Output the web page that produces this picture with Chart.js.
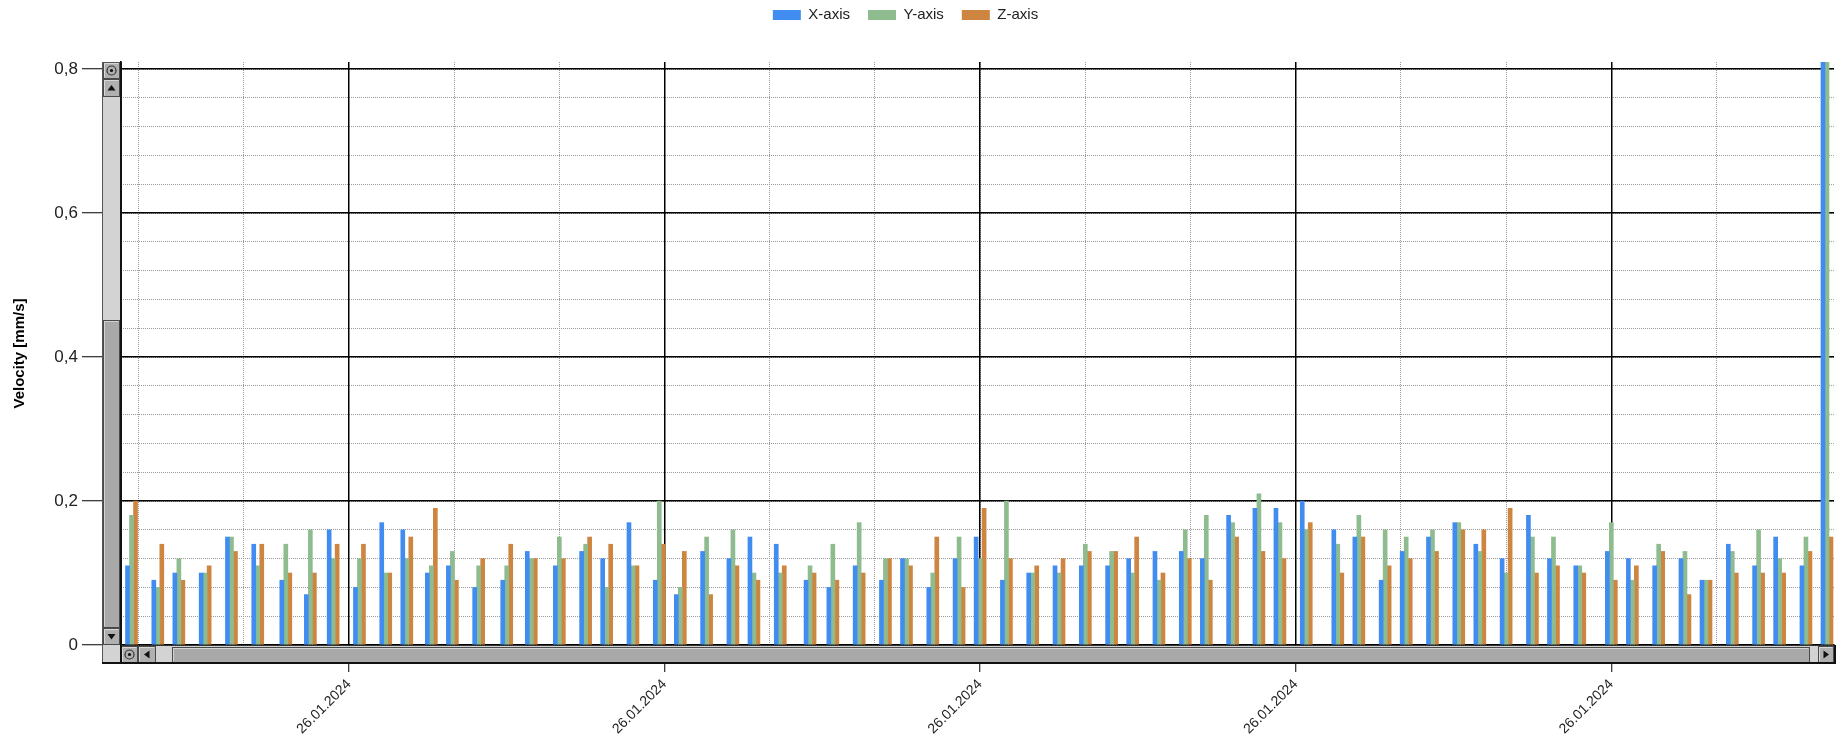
<!DOCTYPE html>
<html>
<head>
<meta charset="utf-8">
<script src="https://cdn.jsdelivr.net/npm/chart.js@4.4.1/dist/chart.umd.min.js"></script>
<style>
  html, body { margin: 0; padding: 0; background: #fff; }
  #wrap { width: 1839px; height: 736px; }
</style>
</head>
<body>
<div id="wrap"><canvas id="chart" width="1839" height="736"></canvas></div>
<script>
// Messzeitpunkte am 26.01.2024 (Uhrzeit)
const times = [
  '00:56', '01:11', '01:23', '01:38', '01:53', '02:08', '02:24', '02:38', '02:51', '03:06',
  '03:21', '03:33', '03:47', '03:59', '04:14', '04:30', '04:44', '05:00', '05:15', '05:27',
  '05:42', '05:57', '06:09', '06:24', '06:39', '06:51', '07:06', '07:23', '07:36', '07:51',
  '08:06', '08:18', '08:33', '08:48', '09:00', '09:15', '09:30', '09:45', '10:00', '10:15',
  '10:27', '10:42', '10:57', '11:09', '11:24', '11:39', '11:51', '12:06', '12:24', '12:36',
  '12:51', '13:03', '13:18', '13:33', '13:45', '14:00', '14:15', '14:27', '14:42', '15:00',
  '15:12', '15:27', '15:42', '15:54', '16:09', '16:24', '16:36', '16:51', '17:03'
];
const xAxisValues = [
  0.11, 0.09, 0.10, 0.10, 0.15, 0.14, 0.09, 0.07, 0.16, 0.08,
  0.17, 0.16, 0.10, 0.11, 0.08, 0.09, 0.13, 0.11, 0.13, 0.12,
  0.17, 0.09, 0.07, 0.13, 0.12, 0.15, 0.14, 0.09, 0.08, 0.11,
  0.09, 0.12, 0.08, 0.12, 0.15, 0.09, 0.10, 0.11, 0.11, 0.11,
  0.12, 0.13, 0.13, 0.12, 0.18, 0.19, 0.19, 0.20, 0.16, 0.15,
  0.09, 0.13, 0.15, 0.17, 0.14, 0.12, 0.18, 0.12, 0.11, 0.13,
  0.12, 0.11, 0.12, 0.09, 0.14, 0.11, 0.15, 0.11, 0.85
];
const yAxisValues = [
  0.18, 0.08, 0.12, 0.10, 0.15, 0.11, 0.14, 0.16, 0.12, 0.12,
  0.10, 0.12, 0.11, 0.13, 0.11, 0.11, 0.12, 0.15, 0.14, 0.08,
  0.11, 0.20, 0.08, 0.15, 0.16, 0.10, 0.10, 0.11, 0.14, 0.17,
  0.12, 0.12, 0.10, 0.15, 0.12, 0.20, 0.10, 0.10, 0.14, 0.13,
  0.10, 0.09, 0.16, 0.18, 0.17, 0.21, 0.17, 0.16, 0.14, 0.18,
  0.16, 0.15, 0.16, 0.17, 0.13, 0.10, 0.15, 0.15, 0.11, 0.17,
  0.09, 0.14, 0.13, 0.09, 0.13, 0.16, 0.12, 0.15, 0.84
];
const zAxisValues = [
  0.20, 0.14, 0.09, 0.11, 0.13, 0.14, 0.10, 0.10, 0.14, 0.14,
  0.10, 0.15, 0.19, 0.09, 0.12, 0.14, 0.12, 0.12, 0.15, 0.14,
  0.11, 0.14, 0.13, 0.07, 0.11, 0.09, 0.11, 0.10, 0.09, 0.10,
  0.12, 0.11, 0.15, 0.08, 0.19, 0.12, 0.11, 0.12, 0.13, 0.13,
  0.15, 0.10, 0.12, 0.09, 0.15, 0.13, 0.12, 0.17, 0.10, 0.15,
  0.11, 0.12, 0.13, 0.16, 0.16, 0.19, 0.10, 0.11, 0.10, 0.09,
  0.11, 0.13, 0.07, 0.09, 0.10, 0.10, 0.10, 0.13, 0.15
];
const dateLabel = '26.01.2024';
const seriesNames = ['X-axis', 'Y-axis', 'Z-axis'];
const seriesColors = ['#418CF0', '#8FBC8F', '#CD853F'];

// Achsenbereich in Minuten seit Mitternacht
const xMin = 50;
const xMax = 1027;

const toMinutes = t => {
  const [h, m] = t.split(':').map(Number);
  return h * 60 + m;
};
const toPoints = vals => vals.map((v, i) => ({ x: toMinutes(times[i]), y: v }));

Chart.defaults.font.family = '"Liberation Sans", Arial, sans-serif';
Chart.defaults.color = '#222';

// Scrollbalken wie im WinForms-Chart
const SB = 19;

function bevelBox(ctx, x, y, w, h, fill) {
  ctx.fillStyle = fill;
  ctx.fillRect(x, y, w, h);
  ctx.lineWidth = 1;
  ctx.strokeStyle = '#4a4a4a';
  ctx.strokeRect(x + 0.5, y + 0.5, w - 1, h - 1);
  ctx.strokeStyle = 'rgba(255,255,255,0.5)';
  ctx.beginPath();
  ctx.moveTo(x + 1.5, y + h - 1.5);
  ctx.lineTo(x + 1.5, y + 1.5);
  ctx.lineTo(x + w - 1.5, y + 1.5);
  ctx.stroke();
}

function drawIcon(ctx, kind, cx, cy) {
  ctx.fillStyle = '#111';
  ctx.strokeStyle = '#333';
  ctx.lineWidth = 1.2;
  ctx.beginPath();
  if (kind === 'zoom') {
    ctx.arc(cx, cy, 4.5, 0, Math.PI * 2);
    ctx.stroke();
    ctx.beginPath();
    ctx.arc(cx, cy, 1.6, 0, Math.PI * 2);
    ctx.fill();
    return;
  }
  if (kind === 'up') {
    ctx.moveTo(cx - 4, cy + 2.5); ctx.lineTo(cx + 4, cy + 2.5); ctx.lineTo(cx, cy - 3);
  } else if (kind === 'down') {
    ctx.moveTo(cx - 4, cy - 2.5); ctx.lineTo(cx + 4, cy - 2.5); ctx.lineTo(cx, cy + 3);
  } else if (kind === 'left') {
    ctx.moveTo(cx + 2.5, cy - 4); ctx.lineTo(cx + 2.5, cy + 4); ctx.lineTo(cx - 3, cy);
  } else {
    ctx.moveTo(cx - 2.5, cy - 4); ctx.lineTo(cx - 2.5, cy + 4); ctx.lineTo(cx + 3, cy);
  }
  ctx.closePath();
  ctx.fill();
}

const scrollbarPlugin = {
  id: 'scrollbars',
  afterLayout(chart) {
    // Legende etwas nach links und oben rücken
    const lg = chart.legend;
    const shift = -11.5;
    lg.left = shift;
    lg.right = chart.width - 5 + shift;
    lg.top = -10.5;
  },
  afterDraw(chart) {
    const { ctx, chartArea: a } = chart;
    ctx.save();

    // vertikaler Balken
    const vx = a.left - SB;
    ctx.fillStyle = '#d3d3d3';
    ctx.fillRect(vx, a.top, SB, a.bottom - a.top + SB);
    const trackTop = a.top + 35;
    const trackBot = a.bottom - 17;
    const thumbTop = trackTop + (trackBot - trackTop) * 0.42;
    bevelBox(ctx, vx + 1, thumbTop, SB - 2, trackBot - thumbTop, '#a9a9a9');
    bevelBox(ctx, vx + 1, a.top, SB - 2, 17, '#b0b0b0');
    drawIcon(ctx, 'zoom', vx + SB / 2, a.top + 8.5);
    bevelBox(ctx, vx + 1, a.top + 17, SB - 2, 18, '#b0b0b0');
    drawIcon(ctx, 'up', vx + SB / 2, a.top + 26);
    bevelBox(ctx, vx + 1, trackBot, SB - 2, 17, '#b0b0b0');
    drawIcon(ctx, 'down', vx + SB / 2, trackBot + 8.5);

    // horizontaler Balken
    const hy = a.bottom + 1;
    ctx.fillStyle = '#d3d3d3';
    ctx.fillRect(a.left, hy, a.right - a.left, SB - 1);
    bevelBox(ctx, a.left + 51, hy + 1, (a.right - 24) - (a.left + 51), SB - 3, '#a9a9a9');
    bevelBox(ctx, a.left, hy, 17, SB - 2, '#b0b0b0');
    drawIcon(ctx, 'zoom', a.left + 8.5, hy + 8.5);
    bevelBox(ctx, a.left + 17, hy, 18, SB - 2, '#b0b0b0');
    drawIcon(ctx, 'left', a.left + 26, hy + 8.5);
    bevelBox(ctx, a.right - 16, hy, 16, SB - 2, '#b0b0b0');
    drawIcon(ctx, 'right', a.right - 8, hy + 8.5);

    // Rahmen
    ctx.strokeStyle = '#555';
    ctx.lineWidth = 1;
    ctx.strokeRect(vx + 0.5, a.top + 0.5, SB - 1, a.bottom - a.top + SB - 1);
    ctx.strokeStyle = '#111';
    ctx.lineWidth = 2;
    ctx.beginPath();
    ctx.moveTo(a.left, a.top);
    ctx.lineTo(a.left, a.bottom + SB);
    ctx.moveTo(vx, a.bottom + SB - 1);
    ctx.lineTo(a.right + 1, a.bottom + SB - 1);
    ctx.lineTo(a.right + 1, a.bottom);
    ctx.stroke();
    ctx.restore();
  }
};

const datasets = [xAxisValues, yAxisValues, zAxisValues].map((vals, i) => ({
  label: seriesNames[i],
  data: toPoints(vals),
  xAxisID: 'x',
  yAxisID: 'y',
  backgroundColor: seriesColors[i],
  borderWidth: 0,
  barThickness: 4
}));

new Chart(document.getElementById('chart'), {
  type: 'bar',
  data: { datasets },
  options: {
    responsive: false,
    animation: false,
    layout: { padding: { top: 19, right: 5, bottom: 0, left: 0 } },
    plugins: {
      tooltip: { enabled: false },
      legend: {
        position: 'top',
        labels: {
          boxWidth: 28,
          boxHeight: 10,
          padding: 18,
          font: { size: 15 },
          color: '#222'
        }
      }
    },
    scales: {
      xMinor: {
        type: 'linear',
        position: 'bottom',
        min: xMin,
        max: xMax,
        offset: false,
        afterFit: s => { s.height = 0; },
        ticks: { display: false, stepSize: 60, includeBounds: false },
        grid: { offset: false, color: '#9a9a9a', lineWidth: 1, drawTicks: false },
        border: { display: false, dash: [1, 1] }
      },
      yMinor: {
        type: 'linear',
        position: 'left',
        min: 0,
        max: 0.81,
        afterFit: s => { s.width = 0; },
        ticks: { display: false, stepSize: 0.04, includeBounds: false },
        grid: { color: '#9a9a9a', lineWidth: 1, drawTicks: false },
        border: { display: false, dash: [1, 1] }
      },
      x: {
        type: 'linear',
        position: 'bottom',
        min: xMin,
        max: xMax,
        offset: false,
        afterFit: s => { s.height = 91; },
        ticks: {
          stepSize: 180,
          includeBounds: false,
          autoSkip: false,
          minRotation: 45,
          maxRotation: 45,
          padding: 4,
          font: { size: 14 },
          color: '#222',
          callback: () => dateLabel
        },
        grid: { offset: false, color: '#000', lineWidth: 1.5, tickLength: 27, tickColor: '#000', tickWidth: 1 },
        border: { display: true, color: '#000', width: 1.5 }
      },
      y: {
        type: 'linear',
        position: 'left',
        min: 0,
        max: 0.81,
        afterFit: s => { s.width = 121; },
        ticks: {
          stepSize: 0.2,
          includeBounds: false,
          padding: 4,
          font: { size: 17 },
          color: '#222',
          callback: v => (v === 0 ? '0' : v.toFixed(1).replace('.', ','))
        },
        grid: { color: '#000', lineWidth: 1.5, tickLength: 39, tickColor: '#000', tickWidth: 1 },
        border: { display: true, color: '#000', width: 1.5 },
        title: {
          display: true,
          text: 'Velocity [mm/s]',
          color: '#000',
          font: { size: 15, weight: 'bold' },
          padding: { top: 11, bottom: 0 }
        }
      }
    }
  },
  plugins: [scrollbarPlugin]
});
</script>
</body>
</html>
